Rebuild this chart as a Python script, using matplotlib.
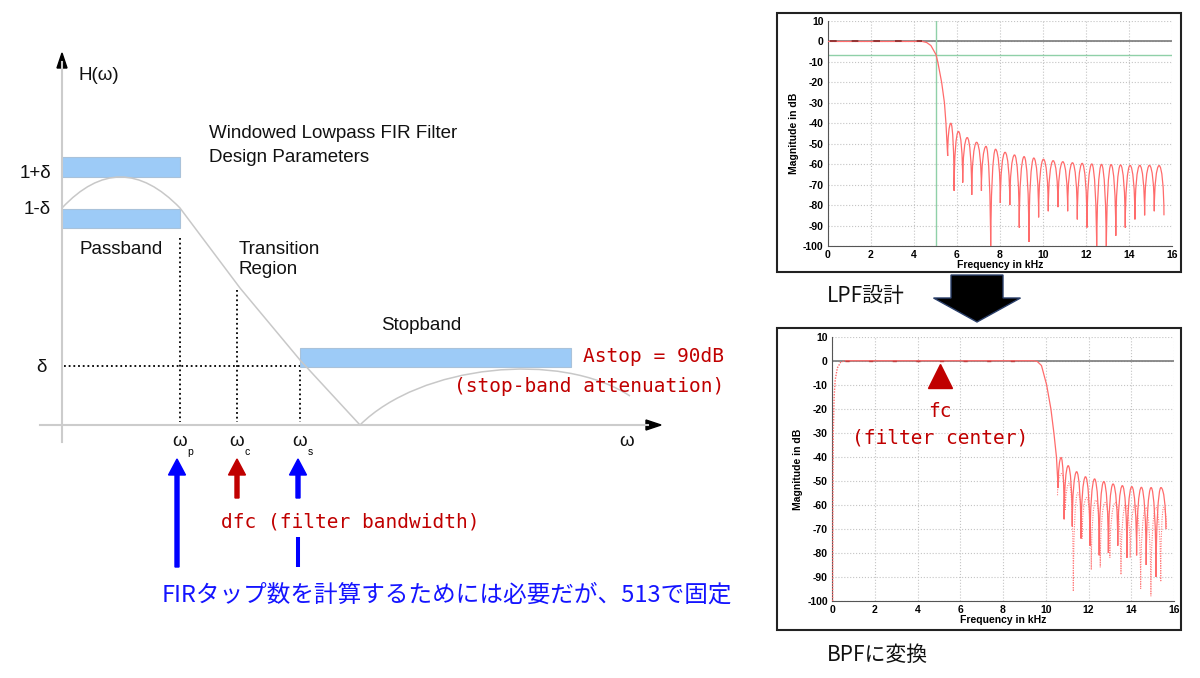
import numpy as np
import matplotlib
matplotlib.use('Agg')
import matplotlib.pyplot as plt
from matplotlib.path import Path
from matplotlib.patches import PathPatch, Rectangle, FancyArrow, Polygon

plt.rcParams['axes.unicode_minus'] = False

# ---- LPF response (top chart) ----
lpf_edge_khz = [0, 4.4, 4.6, 4.8, 5.04, 5.12, 5.30, 5.43, 5.50, 5.58]
lpf_edge_db = [0, 0, -0.5, -2, -6.5, -10, -20, -30, -40, -56]
lpf_null_khz = [5.58, 5.88, 6.28, 6.70, 7.15, 7.58, 8.03, 8.47, 8.91, 9.36, 9.81, 10.26,
                10.71, 11.16, 11.61, 12.06, 12.51, 12.96, 13.40, 13.84, 14.29, 14.74, 15.19, 15.64]
lpf_null_db = [-56, -73, -69, -75, -73, -105, -79, -80, -91, -98, -86, -83,
               -81, -83, -87, -91, -105, -105, -95, -91, -87, -85, -83, -85]
lpf_peak_db = [-40, -44, -47, -49.3, -51.3, -52.7, -54.2, -55.5, -56.3, -57, -57.6, -58.3,
               -58.8, -59.3, -59.6, -59.9, -60.1, -60.2, -60.4, -60.6, -60.6, -60.6, -60.7]
cutoff_khz = 5.04
cutoff_db = -6.5

# ---- BPF response (bottom chart) ----
bpf_rise_khz = [0.03, 0.04, 0.06, 0.10, 0.15, 0.25, 0.40, 0.60]
bpf_rise_db = [-100, -60, -30, -15, -8, -3, -0.7, 0]
bpf_edge_khz = [0.6, 9.4, 9.6, 9.8, 10.04, 10.24, 10.38, 10.50, 10.58]
bpf_edge_db = [0, 0, -0.3, -2, -10, -20, -30, -40, -53]
bpf_null_khz = [10.58, 10.86, 11.24, 11.65, 12.07, 12.50, 12.93, 13.37, 13.80, 14.25, 14.70, 15.16, 15.62]
bpf_null_db = [-53, -66, -69, -74, -77, -81, -80, -77, -82, -81, -85, -90, -70]
bpf_peak_db = [-40.3, -43.7, -46.2, -48.3, -49.2, -50.3, -51.3, -52.0, -52.4, -52.7, -52.8, -52.8]
bpf2_null_khz = [10.55, 10.92, 11.29, 11.70, 12.13, 12.55, 13.00, 13.52, 13.95, 14.44, 14.92, 15.38, 15.65]
bpf2_null_db = [-56, -62, -96, -74, -87, -86, -82, -89, -82, -95, -98, -92, -70]
bpf2_peak_db = [-47, -51, -55, -57, -58, -59, -59, -60, -60, -61, -61, -61]
fc_khz = 5.05

# ---- schematic diagram (pixel units of the drawing) ----
w_p, w_c, w_s = 180, 237, 300
ripple_x = [62, 120, 180]
ripple_y = [208, 146, 208]          # quadratic bezier: start, control, end
transition_x = [180, 240, 300, 360]
transition_y = [208, 288, 360, 425]
stop_x = [360, 420, 560, 630]
stop_y = [425, 365, 350, 396]        # cubic bezier


def lobe_path(edge_f, edge_db, null_f, null_db, peak_db):
    # each side-lobe: steep at the nulls, flat at the top
    if edge_f:
        verts = list(zip(edge_f, edge_db))
        codes = [Path.MOVETO] + [Path.LINETO] * (len(verts) - 1)
    else:
        verts = [(null_f[0], null_db[0])]
        codes = [Path.MOVETO]
    k = 0.55
    for i, pk in enumerate(peak_db):
        f0, f1 = null_f[i], null_f[i + 1]
        d0, d1 = null_db[i], null_db[i + 1]
        fm = (f0 + f1) / 2
        h = fm - f0
        verts += [(f0, d0 + k * (pk - d0)), (fm - k * h, pk), (fm, pk),
                  (fm + k * h, pk), (f1, d1 + k * (pk - d1)), (f1, d1)]
        codes += [Path.CURVE4] * 6
    return Path(verts, codes)


def style_chart(ax):
    ax.set_xlim(0, 16)
    ax.set_ylim(-100, 10)
    ax.set_xticks(np.arange(0, 17, 2))
    ax.set_yticks(np.arange(-100, 11, 10))
    ax.grid(True, color='#c4c4c4', ls=':', lw=0.8)
    ax.set_axisbelow(True)
    for s in ['top', 'right']:
        ax.spines[s].set_visible(False)
    for s in ['left', 'bottom']:
        ax.spines[s].set_color('#555555')
        ax.spines[s].set_linewidth(0.8)
    ax.tick_params(length=0, pad=3)
    for lb in ax.get_xticklabels() + ax.get_yticklabels():
        lb.set_fontsize(7.5)
        lb.set_fontweight('bold')
        lb.set_family('Liberation Sans')
    ax.set_xlabel('Frequency in kHz', fontsize=7.5, fontweight='bold', family='Liberation Sans', labelpad=0)
    ax.set_ylabel('Magnitude in dB', fontsize=7.5, fontweight='bold', family='Liberation Sans', labelpad=3)
    ax.axhline(0, color='#7a7a7a', lw=1.2, zorder=1)


fig = plt.figure(figsize=(12, 6.78), dpi=100)
ax0 = fig.add_axes([0, 0, 1, 1])
ax0.set_xlim(0, 1200)
ax0.set_ylim(678, 0)
ax0.axis('off')

# axes of the schematic
ax0.plot([62, 62], [442, 62], color='#cccccc', lw=1.5)
ax0.plot([40, 648], [425, 425], color='#cccccc', lw=1.5)
ax0.add_patch(Polygon([[62, 53], [57, 68], [67, 68]], color='black'))
ax0.add_patch(Polygon([[661, 425], [646, 420], [646, 430]], color='black'))

# tolerance bands
band_kw = dict(facecolor='#9dcbf7', edgecolor='#a9c2da', lw=0.8)
ax0.add_patch(Rectangle((62, 157), w_p - 62, 20, **band_kw))
ax0.add_patch(Rectangle((62, 209), w_p - 62, 19, **band_kw))
ax0.add_patch(Rectangle((w_s, 348), 571 - w_s, 19, **band_kw))

# response curve
curve_v = [(ripple_x[0], ripple_y[0]), (ripple_x[1], ripple_y[1]), (ripple_x[2], ripple_y[2])]
curve_c = [Path.MOVETO, Path.CURVE3, Path.CURVE3]
curve_v += list(zip(transition_x[1:], transition_y[1:]))
curve_c += [Path.LINETO] * (len(transition_x) - 1)
curve_v += list(zip(stop_x[1:], stop_y[1:]))
curve_c += [Path.CURVE4] * 3
ax0.add_patch(PathPatch(Path(curve_v, curve_c), fill=False, ec='#c8c8c8', lw=1.1))

# dotted guides
dot = dict(color='black', ls=(0, (1, 1.6)), lw=1.3)
ax0.plot([w_p, w_p], [238, 422], **dot)
ax0.plot([w_c, w_c], [290, 422], **dot)
ax0.plot([w_s, w_s], [370, 422], **dot)
ax0.plot([64, w_s], [366, 366], **dot)

lab = dict(family='Liberation Sans', fontsize=13.5, color='#111111', va='center')
ax0.text(78, 76, 'H(ω)', ha='left', **lab)
ax0.text(209, 133, 'Windowed Lowpass FIR Filter', ha='left', **lab)
ax0.text(209, 157, 'Design Parameters', ha='left', **lab)
ax0.text(51, 173, '1+δ', ha='right', **lab)
ax0.text(51, 210, '1-δ', ha='right', **lab)
ax0.text(47, 368, 'δ', ha='right', **lab)
ax0.text(121, 249, 'Passband', ha='center', **lab)
ax0.text(239, 249, 'Transition', ha='left', **lab)
ax0.text(239, 270, 'Region', ha='left', **lab)
ax0.text(421, 325, 'Stopband', ha='center', **lab)
for x, sub in [(w_p, 'p'), (w_c, 'c'), (w_s, 's')]:
    ax0.text(x, 441, 'ω', ha='center', **lab)
    ax0.text(x + 10, 452, sub, ha='center', family='Liberation Sans', fontsize=7.5, va='center')
ax0.text(627, 441, 'ω', ha='center', **lab)

# arrows under the axis
blue = '#0000ff'
red = '#c00000'
ax0.add_patch(FancyArrow(w_p - 3, 567, 0, -108, width=4, head_width=17, head_length=16,
                         length_includes_head=True, color=blue))
ax0.add_patch(FancyArrow(w_c, 498, 0, -39, width=4, head_width=17, head_length=16,
                         length_includes_head=True, color=red))
ax0.add_patch(FancyArrow(w_s - 2, 498, 0, -39, width=4, head_width=17, head_length=16,
                         length_includes_head=True, color=blue))
ax0.plot([w_s - 2, w_s - 2], [537, 567], color=blue, lw=2.9, solid_capstyle='butt')

mono = dict(family='DejaVu Sans Mono', fontsize=14, color=red, va='center')
ax0.text(221, 522, 'dfc (filter bandwidth)', ha='left', **mono)
ax0.text(724, 357, 'Astop = 90dB', ha='right', **mono)
ax0.text(724, 386, '(stop-band attenuation)', ha='right', **mono)
ax0.text(162, 595, 'FIRタップ数を計算するためには必要だが、513で固定', ha='left', va='center',
         family=['Noto Sans CJK JP', 'DejaVu Sans'], fontsize=17, color='#1414ff')

# right side captions, frames and big arrow
jp = dict(family=['Noto Sans CJK JP', 'DejaVu Sans'], fontsize=15, color='#111111', va='center', ha='left')
ax0.text(827, 296, 'LPF設計', **jp)
ax0.text(827, 655, 'BPFに変換', **jp)
ax0.add_patch(Rectangle((777, 12.5), 404, 259, fill=False, ec='#222222', lw=1.5))
ax0.add_patch(Rectangle((777, 327.5), 404, 302.5, fill=False, ec='#222222', lw=1.5))
ax0.add_patch(FancyArrow(977, 275, 0, 47, width=52, head_width=87, head_length=24,
                         length_includes_head=True, fc='black', ec='#2a3f6a', lw=1))

# top chart: LPF
ax1 = fig.add_axes([827.7 / 1200, 1 - 246 / 678, 344 / 1200, 225 / 678])
style_chart(ax1)
ax1.axvline(cutoff_khz, color='#8fd0a8', lw=1, zorder=2)
ax1.axhline(cutoff_db, color='#8fd0a8', lw=1, zorder=2)
ax1.add_patch(PathPatch(lobe_path(lpf_edge_khz, lpf_edge_db, lpf_null_khz, lpf_null_db, lpf_peak_db),
                        fill=False, ec='#ff6b6b', lw=0.9, zorder=3))
ax1.plot([0.1, 4.4], [0, 0], color='#8a2a2a', ls=(0, (4, 9)), lw=1.2, zorder=4)

# bottom chart: BPF
ax2 = fig.add_axes([832 / 1200, 1 - 601 / 678, 342 / 1200, 264.3 / 678])
style_chart(ax2)
ax2.plot(bpf_rise_khz, bpf_rise_db, color='#ff6b6b', ls=(0, (1, 1)), lw=1, zorder=3)
ax2.add_patch(PathPatch(lobe_path([], [], bpf2_null_khz, bpf2_null_db, bpf2_peak_db),
                        fill=False, ec='#ff8080', ls=(0, (1, 1.2)), lw=0.8, zorder=3))
ax2.add_patch(PathPatch(lobe_path(bpf_edge_khz, bpf_edge_db, bpf_null_khz, bpf_null_db, bpf_peak_db),
                        fill=False, ec='#ff6b6b', lw=0.9, zorder=4))
ax2.plot([0.6, 9.4], [0, 0], color='#c04040', ls=(0, (3, 14)), lw=1, zorder=4)
ax2.plot([fc_khz], [-6.5], marker='^', ms=17, color=red, zorder=5)
ax2.text(fc_khz, -21.3, 'fc', ha='center', **mono)
ax2.text(fc_khz, -32.2, '(filter center)', ha='center', **mono)

fig.savefig('out.png', dpi=100, facecolor='white')
